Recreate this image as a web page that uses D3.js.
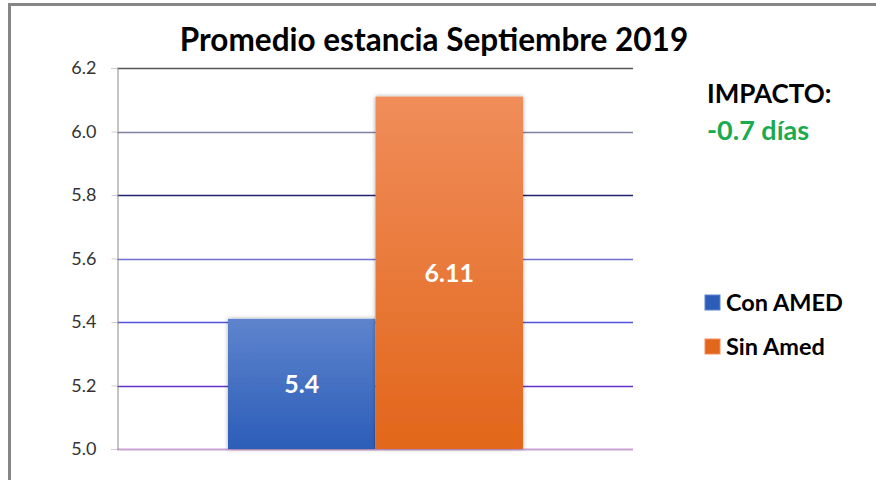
<!DOCTYPE html>
<html>
<head>
<meta charset="utf-8">
<script src="https://cdn.jsdelivr.net/npm/d3@7"></script>
<style>
  body { margin: 0; background: #fff; }
  svg text { font-family: Lato, "Open Sans", sans-serif; }
</style>
</head>
<body>
<div id="chart"></div>
<script>
const categories = ["Con AMED", "Sin Amed"];
const values = [5.41, 6.11];
const valueLabels = ["5.4", "6.11"];
const yTicks = [5.0, 5.2, 5.4, 5.6, 5.8, 6.0, 6.2];
const gridColors = ["#c9a2d4", "#6233c4", "#5252e0", "#7070d2", "#22226e", "#7f81a2", "#555555"];
const barColors = [["#5e84cd", "#2c5db8"], ["#f08d5a", "#e2661b"]];
const titleText = "Promedio estancia Septiembre 2019";
const impactLabel = "IMPACTO:";
const impactValue = "-0.7 días";

const width = 876, height = 480;
const margin = { left: 117, right: 243, top: 68, bottom: 31 };

const svg = d3.select("#chart").append("svg")
  .attr("width", width)
  .attr("height", height);

const defs = svg.append("defs");
barColors.forEach((c, i) => {
  const g = defs.append("linearGradient")
    .attr("id", "grad" + i)
    .attr("x1", 0).attr("y1", 0).attr("x2", 0).attr("y2", 1);
  g.append("stop").attr("offset", "0%").attr("stop-color", c[0]);
  g.append("stop").attr("offset", "100%").attr("stop-color", c[1]);
});
const shadow = defs.append("filter").attr("id", "shadow")
  .attr("x", "-10%").attr("y", "-10%").attr("width", "120%").attr("height", "120%");
shadow.append("feDropShadow")
  .attr("dx", 0).attr("dy", 0).attr("stdDeviation", 2)
  .attr("flood-color", "#000").attr("flood-opacity", 0.35);

// frame (top + left edges)
svg.append("path")
  .attr("d", `M9.5,${height} V4.5 H${width}`)
  .attr("fill", "none")
  .attr("stroke", "#868686")
  .attr("stroke-width", 3);

const x = d3.scaleBand()
  .domain(categories)
  .range([228, 523])
  .padding(0);

const y = d3.scaleLinear()
  .domain([5.0, 6.2])
  .range([height - margin.bottom, margin.top]);

// gridlines
svg.append("g").selectAll("line")
  .data(yTicks)
  .join("line")
  .attr("x1", margin.left)
  .attr("x2", width - margin.right)
  .attr("y1", d => Math.round(y(d)) + 0.5)
  .attr("y2", d => Math.round(y(d)) + 0.5)
  .attr("stroke", (d, i) => gridColors[i])
  .attr("stroke-width", (d, i) => i === 0 ? 2 : 1.3);

// y axis
const yAxis = svg.append("g")
  .attr("transform", `translate(${margin.left + 0.5},0)`)
  .call(d3.axisLeft(y).tickValues(yTicks).tickFormat(d3.format(".1f")).tickSize(6).tickPadding(15));
yAxis.select(".domain").attr("stroke", "#8c8c8c");
yAxis.selectAll(".tick line").attr("stroke", "#cfcfcf");
yAxis.selectAll(".tick text")
  .attr("fill", "#333")
  .style("font-size", "18px");

// bars
svg.append("g").selectAll("rect")
  .data(values)
  .join("rect")
  .attr("x", (d, i) => x(categories[i]))
  .attr("y", d => y(d))
  .attr("width", x.bandwidth())
  .attr("height", d => y(5.0) - y(d))
  .attr("fill", (d, i) => `url(#grad${i})`)
  .attr("filter", "url(#shadow)");

// bar labels
svg.append("g").selectAll("text")
  .data(values)
  .join("text")
  .attr("x", (d, i) => x(categories[i]) + x.bandwidth() / 2)
  .attr("y", d => (y(d) + y(5.0)) / 2 + 9)
  .attr("text-anchor", "middle")
  .attr("fill", "#fff")
  .style("font-size", "25px")
  .style("font-weight", "bold")
  .text((d, i) => valueLabels[i]);

// title
svg.append("text")
  .attr("x", 434)
  .attr("y", 51)
  .attr("text-anchor", "middle")
  .attr("fill", "#000")
  .style("font-size", "31.5px")
  .style("font-weight", "bold")
  .text(titleText);

// impact note
svg.append("text")
  .attr("x", 707)
  .attr("y", 103)
  .attr("fill", "#000")
  .style("font-size", "26px")
  .style("font-weight", "bold")
  .text(impactLabel);
svg.append("text")
  .attr("x", 707)
  .attr("y", 140)
  .attr("fill", "#1aab50")
  .style("font-size", "27px")
  .style("font-weight", "bold")
  .text(impactValue);

// legend
const legend = svg.append("g").selectAll("g")
  .data(categories)
  .join("g")
  .attr("transform", (d, i) => `translate(705,${295 + i * 44})`);
legend.append("rect")
  .attr("width", 15)
  .attr("height", 15)
  .attr("fill", (d, i) => barColors[i][1])
  .attr("stroke", (d, i) => barColors[i][0])
  .attr("stroke-width", 1);
legend.append("text")
  .attr("x", 21)
  .attr("y", 16)
  .attr("fill", "#000")
  .style("font-size", "23.5px")
  .style("font-weight", "bold")
  .text(d => d);
</script>
</body>
</html>
